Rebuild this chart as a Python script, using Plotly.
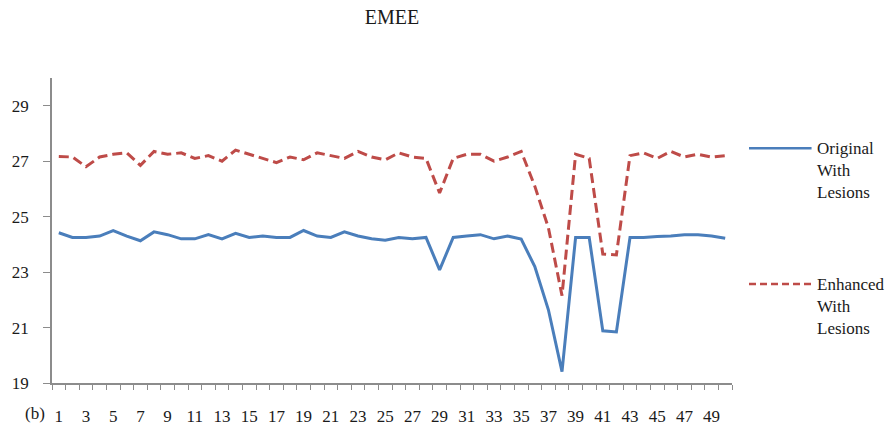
import plotly.graph_objects as go

categories = list(range(1, 51))
original_with_lesions = [
    24.42, 24.25, 24.25, 24.3, 24.5, 24.3, 24.13, 24.45, 24.35, 24.2,
    24.2, 24.35, 24.2, 24.4, 24.25, 24.3, 24.25, 24.25, 24.5, 24.3,
    24.25, 24.45, 24.3, 24.2, 24.15, 24.25, 24.2, 24.25, 23.08, 24.25,
    24.3, 24.35, 24.2, 24.3, 24.19, 23.2, 21.64, 19.41, 24.25, 24.25,
    20.88, 20.84, 24.25, 24.25, 24.28, 24.3, 24.35, 24.35, 24.3, 24.22,
]
enhanced_with_lesions = [
    27.17, 27.15, 26.8, 27.15, 27.25, 27.3, 26.85, 27.35, 27.25, 27.3,
    27.1, 27.2, 27.0, 27.4, 27.25, 27.1, 26.95, 27.15, 27.05, 27.3,
    27.2, 27.1, 27.35, 27.15, 27.05, 27.3, 27.15, 27.1, 25.85, 27.1,
    27.25, 27.25, 27.0, 27.15, 27.35, 26.1, 24.6, 22.15, 27.25, 27.1,
    23.65, 23.62, 27.2, 27.3, 27.1, 27.35, 27.15, 27.25, 27.15, 27.2,
]
x_tick_labels = [str(c) for c in categories if c % 2 == 1]
y_ticks = [19, 21, 23, 25, 27, 29]
series_names = ["Original<br>With<br>Lesions", "Enhanced<br>With<br>Lesions"]

BLUE = "#4a7ebb"
RED = "#be4b48"
SERIF = "Liberation Serif, Times New Roman, serif"
AXIS = "#8c8c8c"
TXT = "#1a1a1a"

fig = go.Figure()
fig.add_trace(go.Scatter(x=categories, y=original_with_lesions, mode="lines",
                         line=dict(color=BLUE, width=3), showlegend=False))
fig.add_trace(go.Scatter(x=categories, y=enhanced_with_lesions, mode="lines",
                         line=dict(color=RED, width=3, dash="10px,5px"), showlegend=False))

# custom legend (long line samples as in the reference)
legend_rows = [(0.77, BLUE, "solid"), (0.325, RED, "7px,4px")]
for name, (yp, col, dash) in zip(series_names, legend_rows):
    fig.add_shape(type="line", xref="paper", yref="paper",
                  x0=1.025, x1=1.117, y0=yp, y1=yp,
                  line=dict(color=col, width=2.5, dash=dash))
    fig.add_annotation(xref="paper", yref="paper", x=1.122, y=yp + 0.036,
                       text=name, showarrow=False, xanchor="left", yanchor="top",
                       align="left", font=dict(family=SERIF, size=17, color=TXT))

fig.add_annotation(xref="paper", yref="paper", x=-0.008, y=-0.062, text="(b)",
                   showarrow=False, xanchor="right", yanchor="top",
                   font=dict(family=SERIF, size=17, color=TXT))

fig.update_layout(
    width=896, height=425,
    margin=dict(l=52, r=164, t=78, b=42, autoexpand=False),
    paper_bgcolor="white", plot_bgcolor="white",
    title=dict(text="EMEE", x=0.5, xref="paper", xanchor="center", y=0.96, yanchor="middle",
               font=dict(family=SERIF, size=20, color=TXT)),
    xaxis=dict(range=[0.5, 50.5], tickmode="array", automargin=False,
               tickvals=[c for c in categories if c % 2 == 1], ticktext=x_tick_labels,
               ticks="", showgrid=False, zeroline=False,
               showline=True, linecolor=AXIS, linewidth=1.5,
               ticklabelstandoff=17,
               tickfont=dict(family=SERIF, size=17, color=TXT),
               minor=dict(tickmode="linear", tick0=0.5, dtick=1, ticks="outside",
                          ticklen=5, tickcolor=AXIS, tickwidth=1, showgrid=False)),
    yaxis=dict(range=[19, 30], tickvals=y_ticks, ticks="outside", ticklen=7,
               automargin=False,
               tickcolor=AXIS, tickwidth=1.2, showgrid=False, zeroline=False,
               showline=True, linecolor=AXIS, linewidth=1.5,
               ticklabelstandoff=11,
               tickfont=dict(family=SERIF, size=17, color=TXT)),
)

fig.write_html("out.html")
